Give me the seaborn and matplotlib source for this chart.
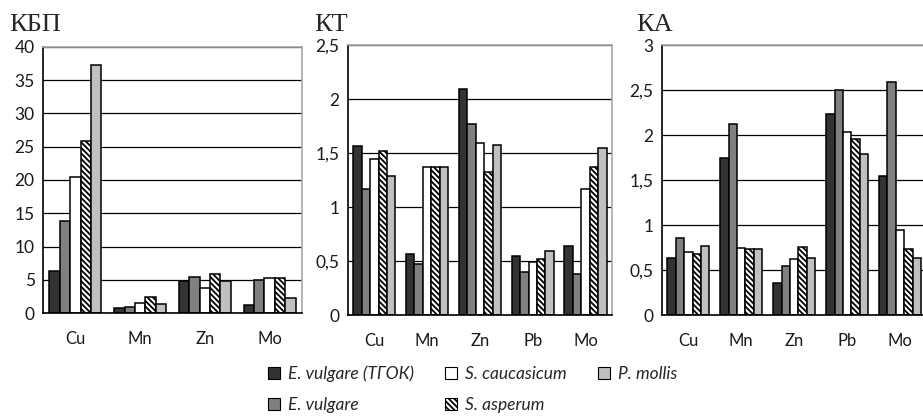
import matplotlib
matplotlib.use('Agg')
import matplotlib.pyplot as plt
from matplotlib.patches import Patch
import numpy as np
import pandas as pd
import seaborn as sns

species = ['E. vulgare (ТГОК)', 'E. vulgare', 'S. caucasicum', 'S. asperum', 'P. mollis']
colors = ['#333333', '#808080', '#ffffff', '#ffffff', '#c0c0c0']

kbp_elements = ['Cu', 'Mn', 'Zn', 'Mo']
kbp_values = [
    [6.3, 13.9, 20.5, 25.9, 37.2],
    [0.8, 0.9, 1.5, 2.4, 1.3],
    [4.8, 5.4, 3.7, 5.9, 4.8],
    [1.2, 5.0, 5.3, 5.3, 2.2],
]

kt_elements = ['Cu', 'Mn', 'Zn', 'Pb', 'Mo']
kt_values = [
    [1.57, 1.17, 1.45, 1.52, 1.29],
    [0.57, 0.47, 1.37, 1.37, 1.37],
    [2.09, 1.77, 1.59, 1.33, 1.58],
    [0.55, 0.40, 0.49, 0.52, 0.59],
    [0.64, 0.38, 1.17, 1.37, 1.55],
]

ka_elements = ['Cu', 'Mn', 'Zn', 'Pb', 'Mo']
ka_values = [
    [0.63, 0.86, 0.70, 0.68, 0.77],
    [1.75, 2.12, 0.75, 0.73, 0.73],
    [0.36, 0.55, 0.62, 0.76, 0.64],
    [2.23, 2.50, 2.04, 1.96, 1.79],
    [1.55, 2.59, 0.95, 0.74, 0.64],
]

HATCH = '\\\\\\\\\\\\'


def to_frame(elements, values):
    rows = []
    for el, vals in zip(elements, values):
        for sp, v in zip(species, vals):
            rows.append({'element': el, 'species': sp, 'value': v})
    return pd.DataFrame(rows)


def draw_panel(ax, elements, values, ymax, ystep, title, title_x):
    df = to_frame(elements, values)
    sns.barplot(data=df, x='element', y='value', hue='species', order=elements,
                hue_order=species, palette=colors, edgecolor='black', linewidth=1.1,
                width=0.8, saturation=1, legend=False, ax=ax)
    for bar in ax.containers[3]:
        bar.set_hatch(HATCH)

    n = len(elements)
    ax.set_xlim(-0.5, n - 0.5)
    ax.set_ylim(0, ymax)
    ticks = np.arange(0, ymax + ystep / 2, ystep)
    ax.set_yticks(ticks)
    ax.set_yticklabels([('%g' % t).replace('.', ',') for t in ticks])
    ax.set_xlabel('')
    ax.set_ylabel('')

    ax.set_xticks(np.arange(-0.5, n, 1.0), minor=True)
    ax.tick_params(axis='x', which='major', length=0, pad=13, labelsize=12,
                   labelcolor='#1a1a1a')
    ax.tick_params(axis='x', which='minor', length=4, width=1, direction='out')
    ax.tick_params(axis='y', length=4, width=1, direction='out', labelsize=12.5, pad=2,
                   labelcolor='#1a1a1a')

    ax.yaxis.grid(True, color='black', lw=0.9)
    ax.xaxis.grid(False)
    ax.set_axisbelow(True)
    for side in ['left', 'bottom']:
        ax.spines[side].set_color('black')
        ax.spines[side].set_linewidth(1.2)
    for side in ['top', 'right']:
        ax.spines[side].set_color('#a8a8a8')
        ax.spines[side].set_linewidth(1.2)

    ax.figure.text(title_x, 0.94, title, fontsize=19, family='Liberation Serif',
                   ha='left', va='center')


sns.set_style('white')
plt.rcParams['font.family'] = ['Lato', 'DejaVu Sans']
plt.rcParams['hatch.linewidth'] = 1.3

fig = plt.figure(figsize=(9.23, 4.18), dpi=100)

ax1 = fig.add_axes([0.0466, 0.251, 0.2806, 0.637])
ax2 = fig.add_axes([0.377, 0.246, 0.286, 0.646])
ax3 = fig.add_axes([0.717, 0.246, 0.287, 0.646])

draw_panel(ax1, kbp_elements, kbp_values, 40, 5, 'КБП', 0.010)
draw_panel(ax2, kt_elements, kt_values, 2.5, 0.5, 'КТ', 0.340)
draw_panel(ax3, ka_elements, ka_values, 3, 0.5, 'КА', 0.689)

handles = []
for sp, c in zip(species, colors):
    h = Patch(facecolor=c, edgecolor='black', linewidth=0.8,
              hatch=HATCH if sp == 'S. asperum' else None, label=sp)
    handles.append(h)

fig.legend(handles=handles, ncol=3, loc='lower center', bbox_to_anchor=(0.512, -0.025),
           frameon=False, handlelength=0.7, handleheight=0.7, handletextpad=0.45,
           columnspacing=1.8, labelspacing=0.85,
           prop={'style': 'italic', 'size': 12.5})

fig.savefig('out.png', dpi=100)
